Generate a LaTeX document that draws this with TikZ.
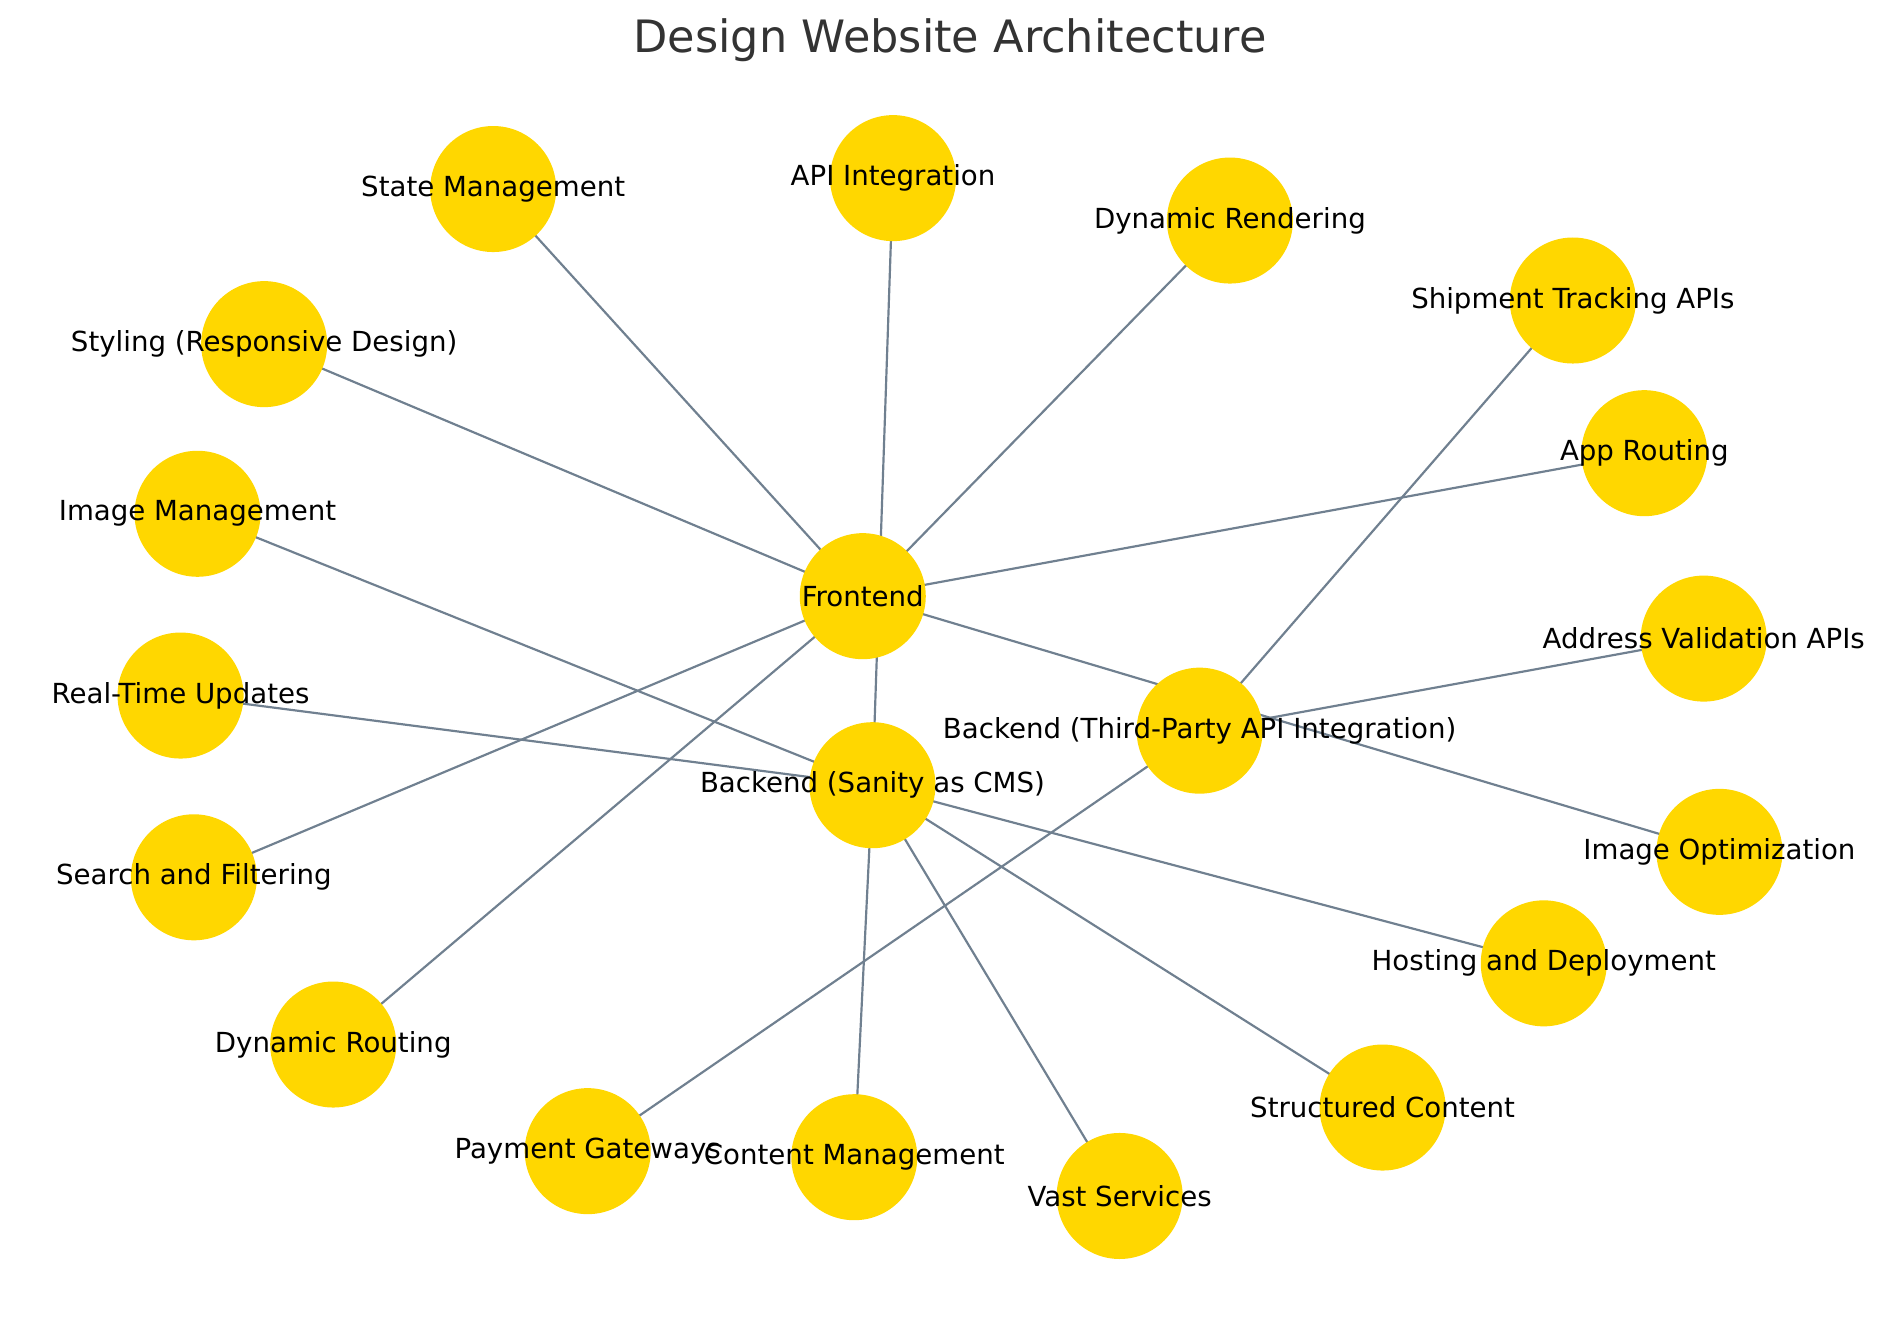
\documentclass[tikz,border=0pt]{standalone}
\usepackage{fontspec}
\setmainfont{DejaVu Sans}
\usetikzlibrary{backgrounds}
\definecolor{gold}{HTML}{FFD700}
\definecolor{slate}{HTML}{708090}
\definecolor{titlegray}{HTML}{333333}
\tikzset{
  bubble/.style={circle, fill=gold, draw=none, minimum size=104pt, inner sep=0pt},
  lbl/.style={font=\fontsize{22.8}{26}\selectfont, text=black, inner sep=0pt},
  edge/.style={draw=slate, line width=1.8pt},
}
\begin{document}
\begin{tikzpicture}[x=1pt,y=-1pt]
\useasboundingbox (0,0) rectangle (1568,1091);
\node[font=\fontsize{36.8}{42}\selectfont, text=titlegray] (title) at (784,33) {Design Website Architecture};
% nodes
\node[bubble] (fe) at (712,492) {};
\node[bubble] (bs) at (720,648) {};
\node[bubble] (bt) at (990,603) {};
\node[bubble] (sm) at (407,156) {};
\node[bubble] (api) at (737,147) {};
\node[bubble] (dr) at (1015,182) {};
\node[bubble] (st) at (1298,248) {};
\node[bubble] (ar) at (1357,374) {};
\node[bubble] (av) at (1406,527) {};
\node[bubble] (io) at (1419,703) {};
\node[bubble] (hd) at (1274,795) {};
\node[bubble] (sc) at (1141,914) {};
\node[bubble] (vs) at (924,987) {};
\node[bubble] (cm) at (705,955) {};
\node[bubble] (pg) at (485,950) {};
\node[bubble] (dro) at (275,862) {};
\node[bubble] (sf) at (160,724) {};
\node[bubble] (rt) at (149,574) {};
\node[bubble] (im) at (163,424) {};
\node[bubble] (sty) at (218,284) {};
% edges (centre to centre, behind the bubbles)
\begin{scope}[on background layer]
\foreach \t in {sm,dr,ar,sty,sf,dro,io} \draw[edge] (fe.center) -- (\t.center);
\foreach \t in {api,im,rt,hd,sc,vs,cm} \draw[edge] (bs.center) -- (\t.center);
\foreach \t in {st,av,pg} \draw[edge] (bt.center) -- (\t.center);
\end{scope}
% labels
\node[lbl] at (fe) {Frontend};
\node[lbl] at (bs) {Backend (Sanity as CMS)};
\node[lbl] at (bt) {Backend (Third-Party API Integration)};
\node[lbl] at (sm) {State Management};
\node[lbl] at (api) {API Integration};
\node[lbl] at (dr) {Dynamic Rendering};
\node[lbl] at (st) {Shipment Tracking APIs};
\node[lbl] at (ar) {App Routing};
\node[lbl] at (av) {Address Validation APIs};
\node[lbl] at (io) {Image Optimization};
\node[lbl] at (hd) {Hosting and Deployment};
\node[lbl] at (sc) {Structured Content};
\node[lbl] at (vs) {Vast Services};
\node[lbl] at (cm) {Content Management};
\node[lbl] at (pg) {Payment Gateways};
\node[lbl] at (dro) {Dynamic Routing};
\node[lbl] at (sf) {Search and Filtering};
\node[lbl] at (rt) {Real-Time Updates};
\node[lbl] at (im) {Image Management};
\node[lbl] at (sty) {Styling (Responsive Design)};
\end{tikzpicture}
\end{document}
